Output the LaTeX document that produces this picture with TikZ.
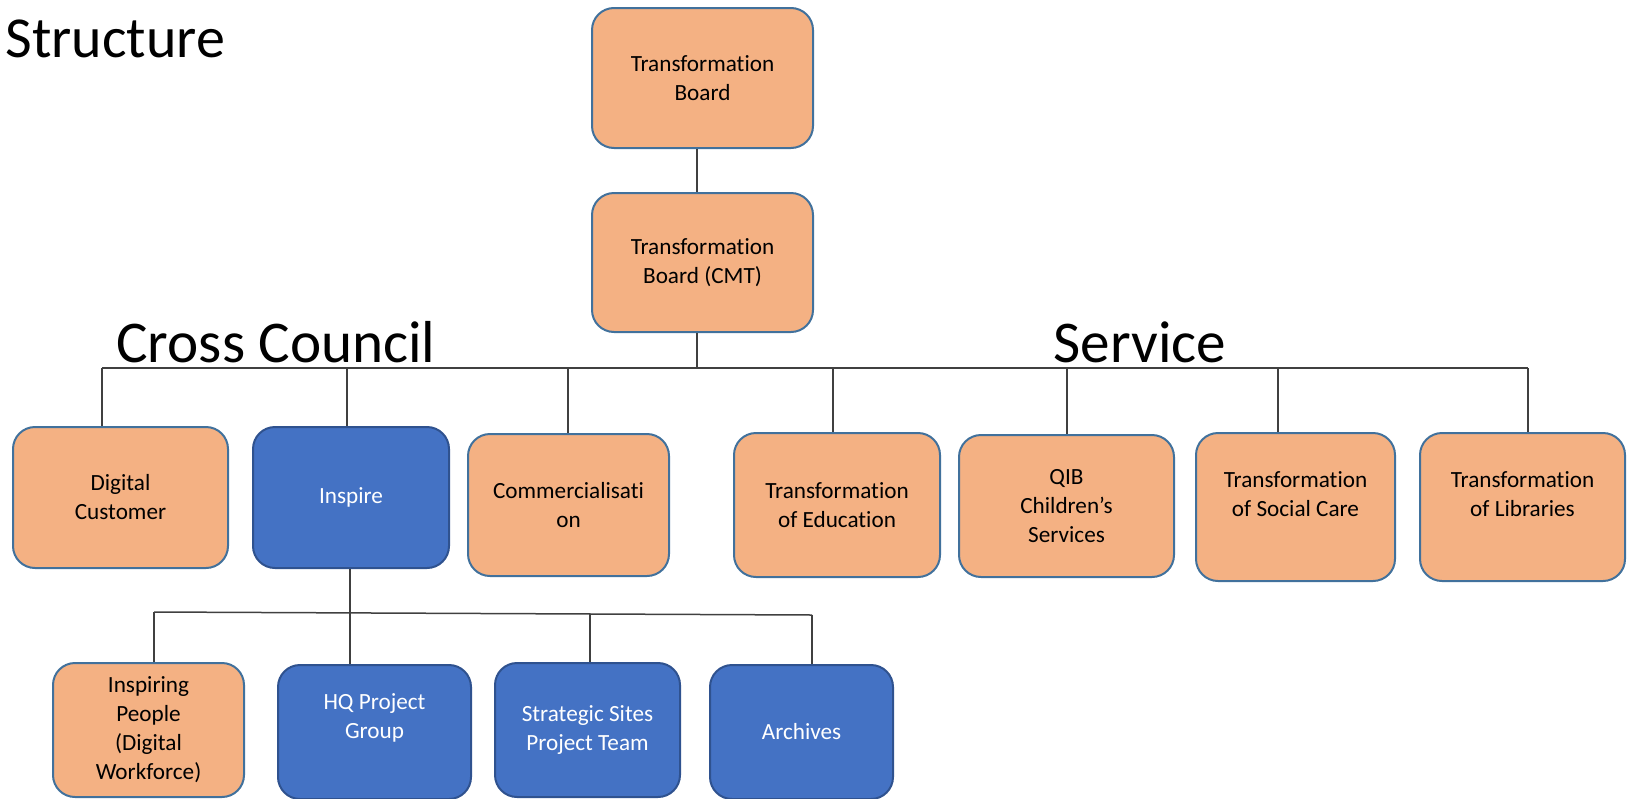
\documentclass[tikz,border=0pt]{standalone}
\usepackage{fontspec}
\setmainfont{Carlito}[Ligatures={NoCommon,NoContextual}]
\definecolor{boxorange}{HTML}{F4B183}
\definecolor{boxblue}{HTML}{4472C4}
\definecolor{edgeblue}{HTML}{41719C}
\definecolor{edgeblue2}{HTML}{2F528F}
\definecolor{linegray}{HTML}{404040}
\begin{document}
\begin{tikzpicture}[x=0.5pt,y=-0.5pt,
  sz/.style 2 args={minimum width={#1*0.5pt}, minimum height={#2*0.5pt}},
  box/.style={draw=edgeblue, line width=1pt, rounded corners=11pt, fill=boxorange,
    text=black, align=center, font=\fontsize{11.6}{14.5}\selectfont, inner sep=0pt},
  bluebox/.style={box, fill=boxblue, draw=edgeblue2, text=white},
  boxtext/.style={align=center, font=\fontsize{11.6}{14.5}\selectfont, inner sep=0pt},
  wire/.style={draw=linegray, line width=0.75pt},
  title/.style={font=\fontsize{29.6}{35}\selectfont, anchor=base west, inner sep=0pt}]
\useasboundingbox (0,0) rectangle (1627,798);

% titles
\node[title, font=\fontsize{29}{35}\selectfont] (tStructure) at (5,57) {Structure};
\node[title] (tCross) at (116,362) {Cross Council};
\node[title] (tService) at (1053,362) {Service};

% top boxes
\node[box, sz={221}{140}] (tb) at (702.5,78) {Transformation\\Board};
\node[box, sz={221}{139}] (cmt) at (702.5,262.5) {Transformation\\Board (CMT)};

% second row
\node[box, sz={215}{141}] (dc) at (120.5,497.5) {Digital\\Customer};
\node[bluebox, sz={196}{141}] (insp) at (351,497.5) {Inspire};
\node[box, sz={201}{142}] (com) at (568.5,505) {Commercialisati\\on};
\node[box, sz={206}{144}] (edu) at (837,505) {Transformation\\of Education};
\node[box, sz={215}{142}] (qib) at (1066.5,506) {QIB\\Children’s\\Services};
\node[box, sz={199}{148}] (soc) at (1295.5,507) {};
\node[boxtext] (soctxt) at ([yshift=6.5pt]soc.center) {Transformation\\of Social Care};
\node[box, sz={205}{148}] (lib) at (1522.5,507) {};
\node[boxtext] (libtxt) at ([yshift=6.5pt]lib.center) {Transformation\\of Libraries};

% third row
\node[box, sz={191}{134}] (ip) at (148.5,730) {Inspiring\\People\\(Digital\\Workforce)};
\node[bluebox, sz={193}{134}] (hq) at (374.5,732) {};
\node[boxtext, text=white] (hqtxt) at ([yshift=7pt]hq.center) {HQ Project\\Group};
\node[bluebox, sz={185}{134}] (ss) at (587.5,730) {Strategic Sites\\Project Team};
\node[bluebox, sz={183}{134}] (arc) at (801.5,732) {Archives};

% main bus
\coordinate (bL) at (102,368);
\coordinate (bR) at (1528,368);
\coordinate (bC) at (697,368);
\coordinate (b2) at (347,368);
\coordinate (b3) at (568,368);
\coordinate (b4) at (833,368);
\coordinate (b5) at (1067,368);
\coordinate (b6) at (1278,368);

\draw[wire] (bC |- tb.south) -- (bC |- cmt.north);
\draw[wire] (bC |- cmt.south) -- (bC);
\draw[wire] (bL) -- (bR);
\draw[wire] (bL) -- (bL |- dc.north);
\draw[wire] (b2) -- (b2 |- insp.north);
\draw[wire] (b3) -- (b3 |- com.north);
\draw[wire] (b4) -- (b4 |- edu.north);
\draw[wire] (b5) -- (b5 |- qib.north);
\draw[wire] (b6) -- (b6 |- soc.north);
\draw[wire] (bR) -- (bR |- lib.north);

% sub bus
\coordinate (sL) at (154,612);
\coordinate (sR) at (812,615);
\coordinate (s2) at (350,613);
\coordinate (s3) at (590,614);
\draw[wire] (sL) -- (sR);
\draw[wire] (s2 |- insp.south) -- (s2 |- hq.north);
\draw[wire] (sL) -- (sL |- ip.north);
\draw[wire] (s3) -- (s3 |- ss.north);
\draw[wire] (sR) -- (sR |- arc.north);
\end{tikzpicture}
\end{document}
